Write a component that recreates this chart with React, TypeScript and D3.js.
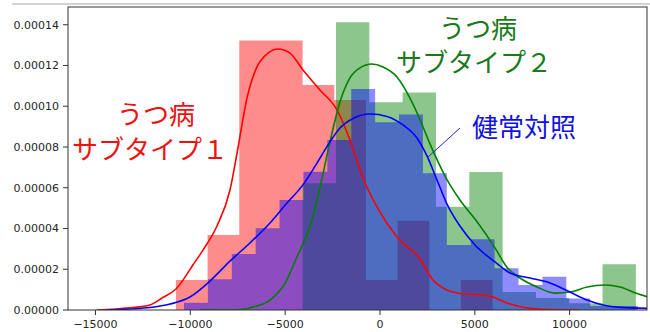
import React from "react";
import * as d3 from "d3";

const WIDTH = 650;
const HEIGHT = 332;
const MARGIN = { top: 7, right: 3, bottom: 22, left: 68 };

const xTicks = [-15000, -10000, -5000, 0, 5000, 10000];
const yTicks = [0, 0.00002, 0.00004, 0.00006, 0.00008, 0.0001, 0.00012, 0.00014];

// histogram bin edges and densities
const redEdges = [-10760, -9090, -7420, -5750, -4080, -2410, -740, 930, 2600, 4270, 5940];
const redDensity = [1.47e-5, 3.68e-5, 1.322e-4, 1.322e-4, 1.104e-4, 1.031e-4, 1.47e-5, 4.38e-5, 0, 1.47e-5];

const greenEdges = [-4076, -2319, -562, 1195, 2952, 4709, 6466, 8223, 9980, 11737, 13494];
const greenDensity = [6.22e-5, 1.412e-4, 1.019e-4, 1.068e-4, 5.07e-5, 6.77e-5, 8.8e-6, 5.9e-6, 3.3e-6, 2.24e-5];

const blueEdges = [
  -10335, -9075, -7815, -6555, -5295, -4035, -2775, -1515, -255, 1005, 2265, 3525, 4785, 6045, 7305,
  8565, 9825, 11085, 12345, 13605,
];
const blueDensity = [
  3.6e-6, 1.51e-5, 2.75e-5, 4.01e-5, 5.4e-5, 6.79e-5, 8.34e-5, 1.085e-4, 9.21e-5, 9.6e-5, 6.71e-5,
  3.19e-5, 3.47e-5, 2.05e-5, 1.23e-5, 1.63e-5, 5.7e-6, 2.0e-6, 2.0e-6,
];

// kde curves [value, density]
const redKde: [number, number][] = [
  [-14922, 0], [-13182, 1.1e-6], [-12128, 2.5e-6], [-11495, 5.9e-6], [-10757, 1.03e-5],
  [-9861, 2.21e-5], [-9333, 2.94e-5], [-8595, 4.12e-5], [-7909, 5.89e-5], [-7488, 7.95e-5],
  [-7013, 1.04e-4], [-6486, 1.193e-4], [-5906, 1.261e-4], [-5378, 1.281e-4], [-4746, 1.261e-4],
  [-4060, 1.178e-4], [-3164, 1.08e-4], [-2267, 9.82e-5], [-1582, 8.34e-5], [-896, 6.48e-5],
  [-158, 5.06e-5], [896, 3.58e-5], [2109, 2.5e-5], [2795, 1.47e-5],
  [3533, 9.8e-6], [4218, 8.1e-6], [5273, 7.4e-6], [5958, 6.4e-6], [6697, 3.4e-6],
  [7909, 8e-7], [9228, 1e-7], [10546, 0],
];

const greenKde: [number, number][] = [
  [-9491, 0], [-8173, 1e-7], [-7382, 2.5e-7], [-6697, 1.5e-6], [-5800, 4.9e-6], [-5062, 1.23e-5],
  [-4377, 2.6e-5], [-3586, 4.42e-5], [-3111, 6.23e-5], [-2637, 8.25e-5], [-2109, 1.021e-4],
  [-1582, 1.139e-4], [-1055, 1.188e-4], [-422, 1.207e-4], [158, 1.193e-4], [896, 1.144e-4],
  [1582, 1.04e-4], [2109, 9.35e-5], [2637, 8.15e-5], [3533, 6.4e-5], [4218, 5.4e-5],
  [5062, 4.4e-5], [6064, 3.05e-5], [6697, 2.1e-5], [7382, 1.57e-5], [8279, 1.13e-5],
  [9228, 8.3e-6], [10019, 8.8e-6], [10915, 1.13e-5], [11864, 1.23e-5], [12655, 1.13e-5],
  [13552, 8.1e-6], [14132, 6.4e-6],
];

const blueKde: [number, number][] = [
  [-14501, 0], [-13183, 5e-7], [-12128, 1.2e-6], [-11073, 2.9e-6], [-10019, 6.4e-6],
  [-8964, 1.42e-5], [-7910, 2.4e-5], [-6855, 3.29e-5], [-5800, 4.27e-5], [-4904, 5.25e-5],
  [-4060, 6.14e-5], [-3322, 7.21e-5], [-2637, 8.25e-5], [-2109, 8.93e-5], [-1424, 9.4e-5],
  [-527, 9.62e-5], [369, 9.5e-5], [1213, 9.08e-5], [1951, 8.44e-5], [2478, 7.56e-5],
  [3006, 6.38e-5], [3533, 5.2e-5], [4218, 4.12e-5], [5009, 3.19e-5], [6064, 2.36e-5],
  [6855, 1.82e-5], [7910, 1.57e-5], [8964, 1.33e-5], [10019, 8.8e-6], [10915, 4.9e-6],
  [11759, 2.5e-6], [12655, 1.3e-6], [14132, 8e-7],
];

// pointer line of the 健常対照 label
const blueNote: [number, number][] = [[4218, 8.93e-5], [2478, 7.46e-5]];

const JP_FONT = "'Noto Sans CJK JP', 'Noto Sans', sans-serif";

const App = () => {
  const x = d3.scaleLinear().domain([-16450, 14080]).range([MARGIN.left, WIDTH - MARGIN.right]);
  const y = d3.scaleLinear().domain([0, 0.0001487]).range([HEIGHT - MARGIN.bottom, MARGIN.top]);

  const histArea = d3
    .area<[number, number]>()
    .x((d) => x(d[0]))
    .y0(y(0))
    .y1((d) => y(d[1]))
    .curve(d3.curveStepAfter);

  const histPath = (edges: number[], dens: number[]) =>
    histArea(edges.map((e, i) => [e, dens[Math.min(i, dens.length - 1)]] as [number, number]));

  const kdeLine = d3
    .line<[number, number]>()
    .x((d) => x(d[0]))
    .y((d) => y(d[1]))
    .curve(d3.curveMonotoneX);

  const left = MARGIN.left;
  const right = WIDTH - MARGIN.right;
  const top = MARGIN.top;
  const bottom = HEIGHT - MARGIN.bottom;
  const fmtY = d3.format(".5f");
  const fmtX = d3.format("d");

  return (
    <svg
      width={WIDTH}
      height={HEIGHT}
      style={{ position: "absolute", left: 0, top: 0, background: "#fff" }}
    >
      <line x1={12} x2={WIDTH} y1={4} y2={4} stroke="#c4c4c4" strokeWidth={1.5} />
      <defs>
        <clipPath id="plot-clip">
          <rect x={left} y={top} width={right - left} height={bottom - top} />
        </clipPath>
      </defs>

      <g clipPath="url(#plot-clip)">
        <path d={histPath(redEdges, redDensity) || ""} fill="#ff0000" fillOpacity={0.45} />
        <path d={histPath(greenEdges, greenDensity) || ""} fill="#008000" fillOpacity={0.45} />
        <path d={histPath(blueEdges, blueDensity) || ""} fill="#0000ff" fillOpacity={0.45} />

        <path d={kdeLine(redKde) || ""} fill="none" stroke="#ff0000" strokeWidth={1.6} />
        <path d={kdeLine(greenKde) || ""} fill="none" stroke="#008000" strokeWidth={1.6} />
        <path d={kdeLine(blueKde) || ""} fill="none" stroke="#0000ff" strokeWidth={1.6} />
      </g>

      {/* annotation texts */}
      <g fontFamily={JP_FONT} fontSize={26} textAnchor="middle">
        <text x={156} y={124} fill="#ee1111">うつ病</text>
        <text x={150} y={159} fill="#ee1111">サブタイプ１</text>
        <text x={478} y={38} fill="#1a7a1a">うつ病</text>
        <text x={474} y={72} fill="#1a7a1a">サブタイプ２</text>
        <text x={524} y={137} fill="#1111dd">健常対照</text>
      </g>
      <line
        x1={x(blueNote[0][0])}
        y1={y(blueNote[0][1])}
        x2={x(blueNote[1][0])}
        y2={y(blueNote[1][1])}
        stroke="#2222cc"
        strokeWidth={1}
      />

      {/* frame */}
      <rect
        x={left}
        y={top}
        width={right - left}
        height={bottom - top}
        fill="none"
        stroke="#333"
        strokeWidth={1}
      />

      {/* axes */}
      <g fontFamily="'DejaVu Sans', sans-serif" fontSize={11} fill="#262626">
        {yTicks.map((t) => (
          <g key={t}>
            <line x1={left - 5} x2={left} y1={y(t)} y2={y(t)} stroke="#333" />
            <text x={left - 9} y={y(t)} dy="0.35em" textAnchor="end">
              {fmtY(t)}
            </text>
          </g>
        ))}
        {xTicks.map((t) => (
          <g key={t}>
            <line x1={x(t)} x2={x(t)} y1={bottom} y2={bottom + 5} stroke="#333" />
            <text x={x(t)} y={bottom + 18} textAnchor="middle">
              {fmtX(t)}
            </text>
          </g>
        ))}
      </g>
    </svg>
  );
};

export default App;
